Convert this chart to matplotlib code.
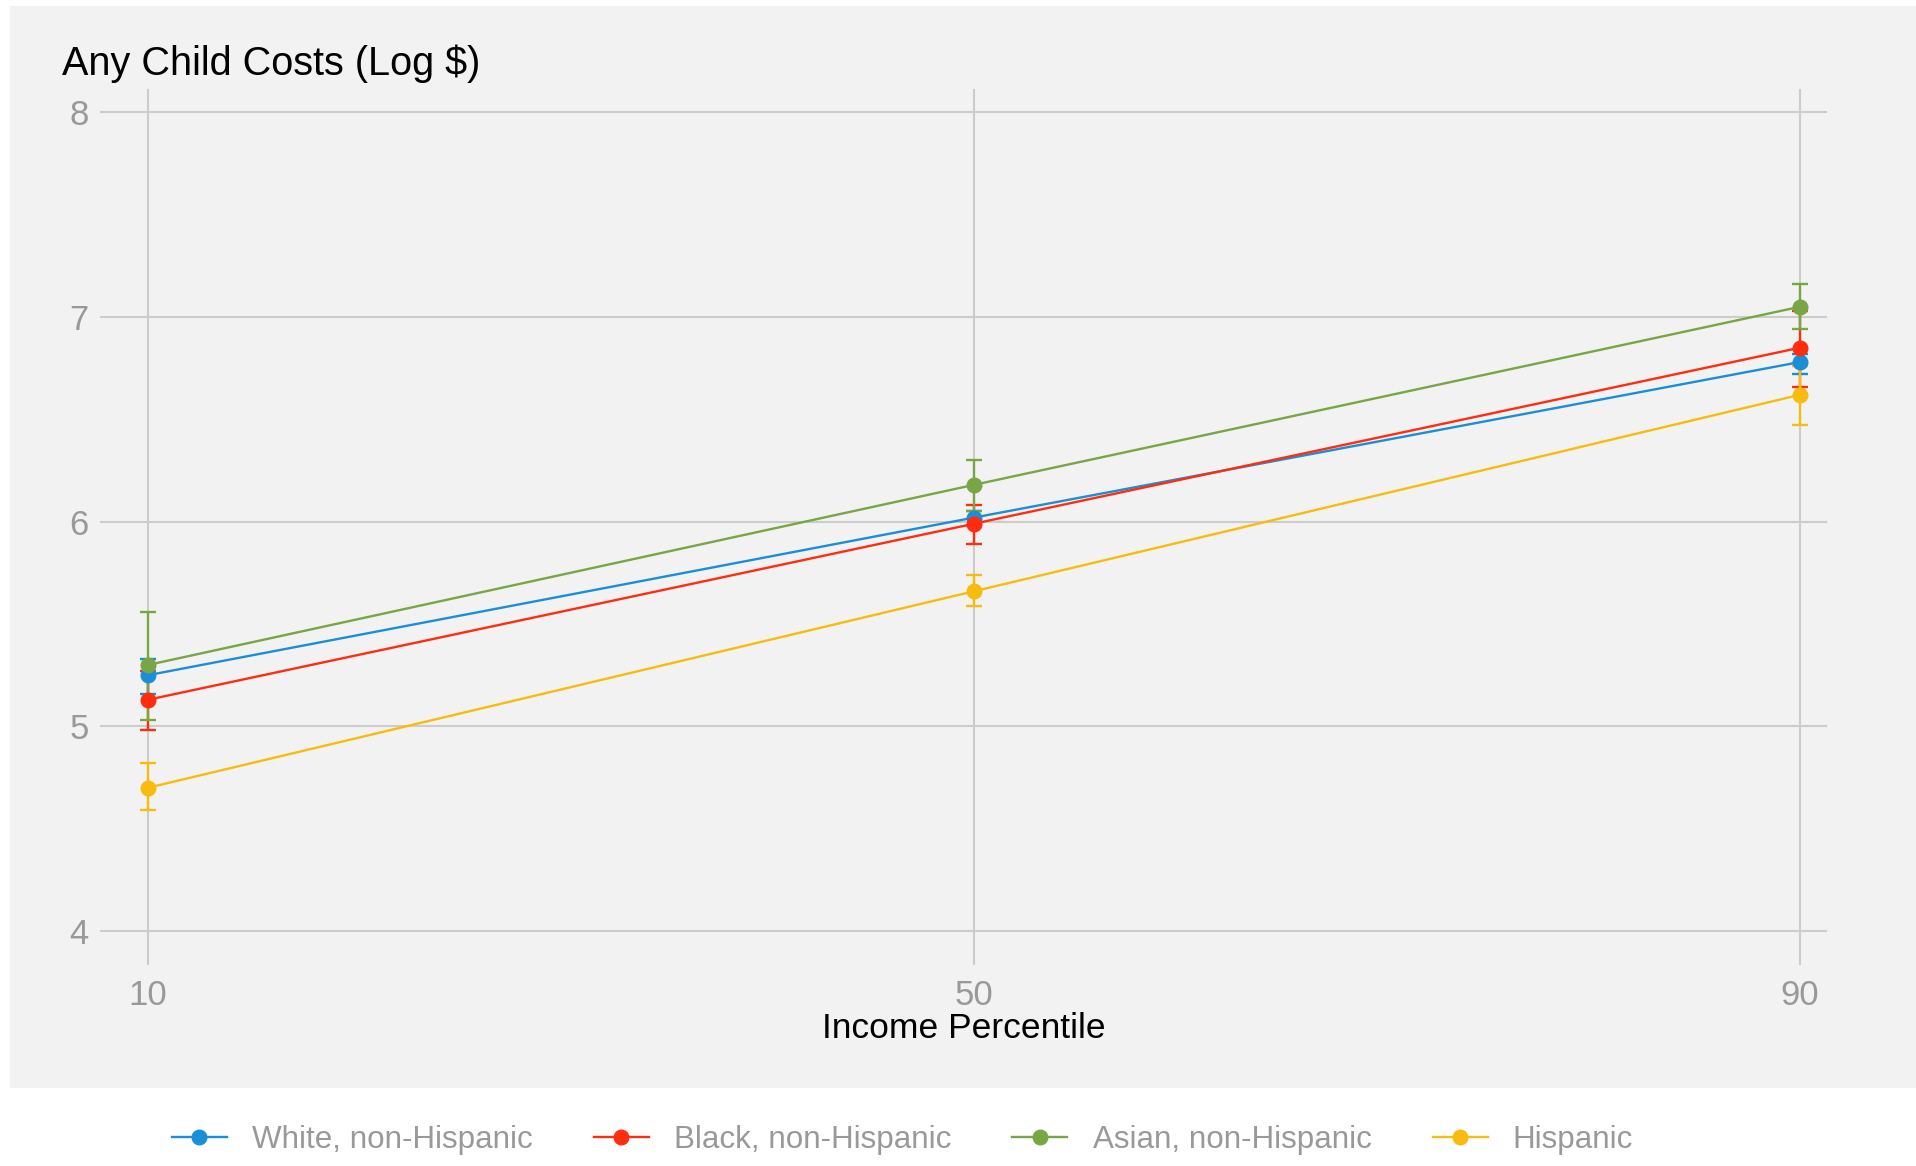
import matplotlib.pyplot as plt
from matplotlib.patches import Rectangle
from matplotlib.lines import Line2D

plt.rcParams['font.family'] = ['Liberation Sans', 'DejaVu Sans']

percentiles = [10, 50, 90]
groups = ["White, non-Hispanic", "Black, non-Hispanic", "Asian, non-Hispanic", "Hispanic"]
colors = ["#1b8ed8", "#ff2d10", "#78a645", "#f8bb0f"]

# log child costs and 95% CI bounds by group
white = [5.25, 6.02, 6.78]
white_lo = [5.16, 5.98, 6.72]
white_hi = [5.33, 6.05, 6.82]
black = [5.13, 5.99, 6.85]
black_lo = [4.98, 5.89, 6.66]
black_hi = [5.27, 6.08, 7.03]
asian = [5.30, 6.18, 7.05]
asian_lo = [5.03, 6.05, 6.94]
asian_hi = [5.56, 6.30, 7.16]
hisp = [4.70, 5.66, 6.62]
hisp_lo = [4.59, 5.59, 6.47]
hisp_hi = [4.82, 5.74, 6.76]

series = [(white, white_lo, white_hi), (black, black_lo, black_hi),
          (asian, asian_lo, asian_hi), (hisp, hisp_lo, hisp_hi)]

W, H = 1916, 1166
fig = plt.figure(figsize=(W / 100, H / 100), dpi=100)
# gray plot region behind the axes, legend sits on white below it
fig.patches.append(Rectangle((10 / W, 1 - 1088 / H), 1 - 10 / W, (1088 - 6) / H,
                             transform=fig.transFigure, facecolor="#f2f2f2",
                             edgecolor="none", zorder=-10))

ax = fig.add_axes([100 / W, 1 - 965 / H, (1827 - 100) / W, (965 - 89) / H])
ax.set_facecolor("#f2f2f2")
for s in ax.spines.values():
    s.set_visible(False)

# error bars underneath, then lines and markers
for (y, lo, hi), c in zip(series, colors):
    yerr = [[m - l for m, l in zip(y, lo)], [h - m for m, h in zip(y, hi)]]
    ax.errorbar(percentiles, y, yerr=yerr, fmt="none", ecolor=c, elinewidth=1.7,
                capsize=5.5, capthick=1.7, zorder=3)
for (y, lo, hi), c in zip(series, colors):
    ax.plot(percentiles, y, color=c, lw=1.7, marker="o", ms=10.5, zorder=4)

ax.set_xlim(7.676, 91.31)
ax.set_ylim(3.834, 8.114)
ax.set_xticks(percentiles)
ax.set_yticks([4, 5, 6, 7, 8])
ax.grid(True, color="#cccccc", lw=1.5)
ax.set_axisbelow(True)
ax.tick_params(length=0, labelsize=25, labelcolor="#999999")
ax.tick_params(axis="x", pad=10)
ax.tick_params(axis="y", pad=8)
ax.set_xlabel("Income Percentile", fontsize=25.5, color="black", labelpad=0)

fig.text(62 / W, 1 - 64 / H, "Any Child Costs (Log $)", fontsize=28.5,
         color="black", va="center", ha="left")

handles = [Line2D([], [], color=c, lw=1.7, marker="o", ms=10.5) for c in colors]
fig.legend(handles, groups, loc="center", bbox_to_anchor=(0.471, 1 - 1140 / H),
           ncol=4, frameon=False, handlelength=1.75, columnspacing=1.95,
           handletextpad=0.8, fontsize=22.6, labelcolor="#999999")

fig.savefig("out.png", dpi=100)
